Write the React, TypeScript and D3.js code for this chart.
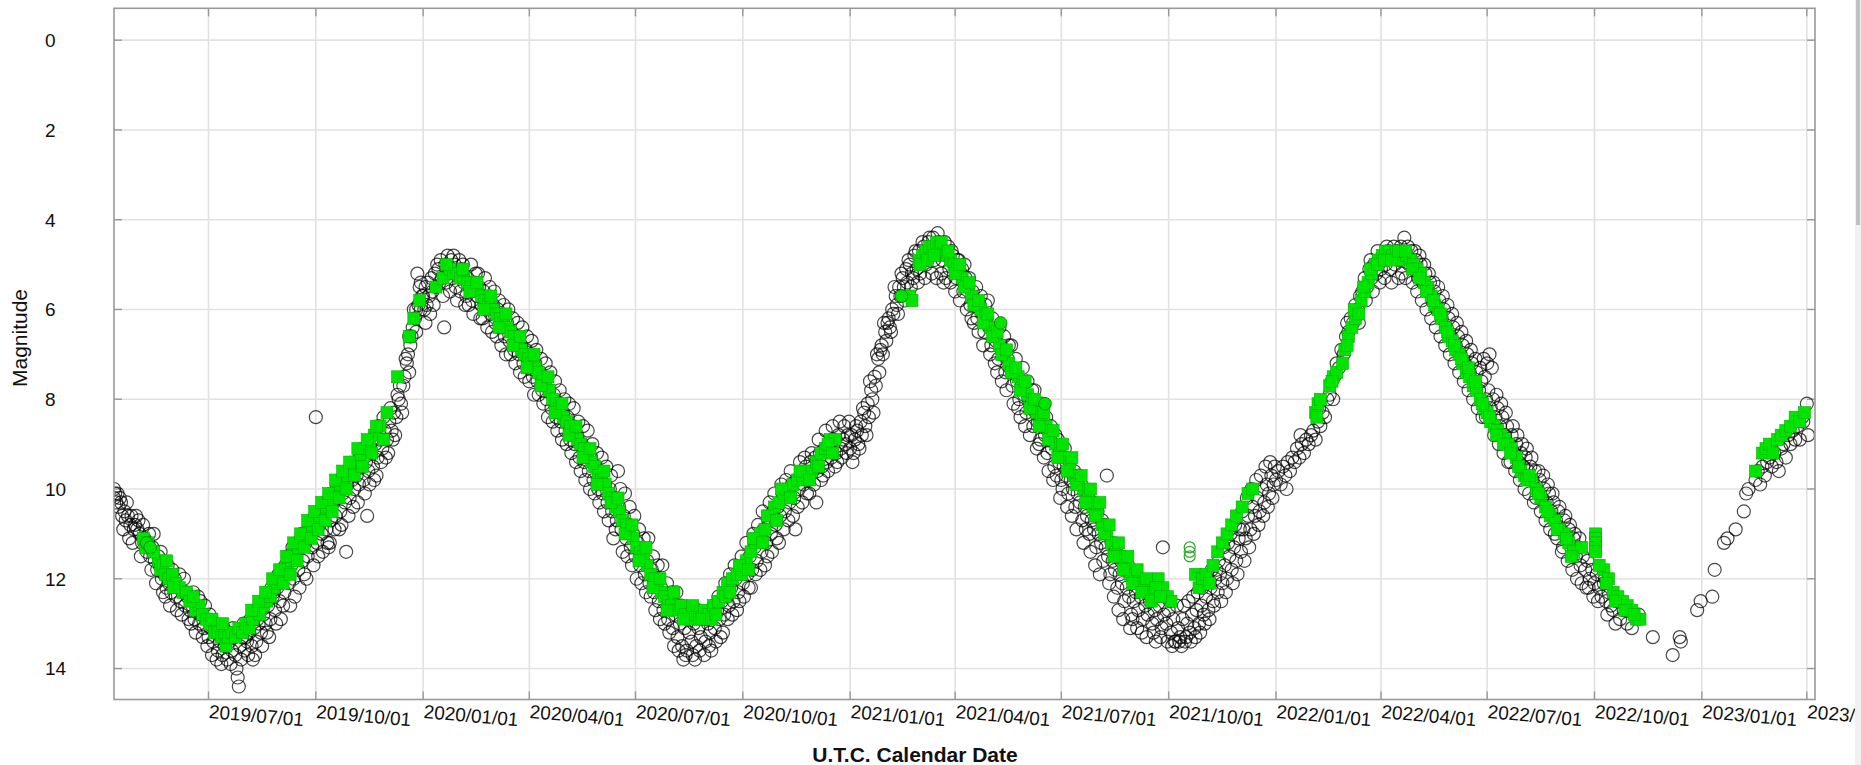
import React from 'react';
import * as d3 from 'd3';

// visual estimates (black open circles), [MM-DD, magnitude]
const visual2019: [string, number][] = [
  ['04-11', 10.0], ['04-11', 10.2], ['04-12', 10.1], ['04-13', 10.3], ['04-14', 10.1], ['04-15', 10.4], ['04-16', 10.2], ['04-17', 10.3],
  ['04-18', 10.6], ['04-20', 10.5], ['04-21', 10.7], ['04-23', 10.6], ['04-24', 11.1], ['04-25', 10.8], ['04-26', 10.6], ['04-28', 10.9],
  ['04-29', 10.8], ['05-01', 10.9], ['05-02', 10.7], ['05-03', 11.0], ['05-05', 11.2], ['05-07', 11.1], ['05-09', 11.4], ['05-10', 11.2],
  ['05-11', 11.0], ['05-12', 11.5], ['05-14', 11.3], ['05-16', 11.6], ['05-18', 11.8], ['05-19', 11.5], ['05-20', 11.7], ['05-22', 12.0],
  ['05-24', 11.9], ['05-25', 12.4], ['05-26', 12.2], ['05-28', 12.1], ['05-30', 12.3], ['06-01', 12.1], ['06-02', 12.0], ['06-03', 12.4],
  ['06-05', 12.2], ['06-07', 12.5], ['06-09', 12.3], ['06-11', 12.6], ['06-12', 12.3], ['06-13', 12.4], ['06-14', 12.9], ['06-15', 12.7],
  ['06-17', 12.6], ['06-19', 12.9], ['06-21', 12.7], ['06-23', 13.0], ['06-24', 12.5], ['06-25', 12.8], ['06-27', 13.1], ['06-29', 12.9],
  ['07-01', 13.3], ['07-03', 13.1], ['07-05', 13.4], ['07-06', 13.0], ['07-07', 13.2], ['07-08', 13.8], ['07-09', 13.6], ['07-11', 13.4],
  ['07-13', 13.7], ['07-15', 13.5], ['07-17', 13.8], ['07-18', 13.2], ['07-19', 13.4], ['07-21', 13.6], ['07-23', 13.3], ['07-25', 14.0],
  ['07-26', 14.2], ['07-27', 14.4], ['07-28', 13.5], ['07-30', 13.3], ['08-01', 13.6], ['08-02', 13.3], ['08-03', 13.4], ['08-05', 13.2],
  ['08-07', 13.5], ['08-09', 13.1], ['08-10', 13.7], ['08-11', 13.4], ['08-12', 12.9], ['08-13', 13.0], ['08-15', 13.2], ['08-17', 12.8],
  ['08-19', 13.0], ['08-20', 13.2], ['08-21', 12.6], ['08-23', 12.9], ['08-25', 12.4], ['08-26', 12.3], ['08-27', 12.7], ['08-29', 12.2],
  ['08-31', 12.5], ['09-02', 12.0], ['09-03', 12.6], ['09-04', 12.3], ['09-05', 11.7], ['09-06', 11.9], ['09-08', 12.1], ['09-10', 11.7],
  ['09-12', 12.0], ['09-13', 12.4], ['09-14', 11.5], ['09-15', 11.2], ['09-16', 11.8], ['09-18', 11.3], ['09-20', 11.6], ['09-21', 11.9],
  ['09-22', 11.2], ['09-24', 11.5], ['09-25', 10.8], ['09-26', 11.0], ['09-28', 11.3], ['09-30', 10.9], ['10-01', 8.4], ['10-02', 11.2],
  ['10-03', 11.5], ['10-04', 10.8], ['10-05', 10.5], ['10-06', 11.0], ['10-08', 10.6], ['10-10', 10.9], ['10-12', 11.3], ['10-13', 11.2],
  ['10-14', 10.7], ['10-15', 10.2], ['10-16', 10.3], ['10-18', 10.6], ['10-20', 10.2], ['10-22', 10.5], ['10-23', 10.8], ['10-24', 10.1],
  ['10-25', 9.8], ['10-26', 10.3], ['10-27', 11.4], ['10-28', 9.9], ['10-30', 10.2], ['11-01', 9.8], ['11-02', 10.4], ['11-03', 10.0],
  ['11-04', 9.4], ['11-05', 9.7], ['11-07', 9.9], ['11-09', 9.5], ['11-10', 9.2], ['11-11', 9.8], ['11-12', 10.1], ['11-13', 9.4],
  ['11-14', 10.6], ['11-15', 9.6], ['11-17', 9.2], ['11-19', 9.5], ['11-21', 9.0], ['11-22', 9.7], ['11-23', 9.3], ['11-24', 8.6],
  ['11-25', 8.9], ['11-27', 9.1], ['11-29', 8.7], ['12-01', 8.9], ['12-02', 9.2], ['12-03', 8.5], ['12-04', 8.2], ['12-05', 8.7],
  ['12-07', 8.3], ['12-08', 8.8], ['12-09', 8.4], ['12-11', 8.0], ['12-12', 7.7], ['12-13', 8.1], ['12-14', 8.3], ['12-15', 7.7],
  ['12-16', 7.5], ['12-17', 7.1], ['12-18', 7.2], ['12-19', 7.0], ['12-21', 6.8], ['12-22', 6.6], ['12-23', 6.4], ['12-24', 6.0],
  ['12-25', 6.2], ['12-26', 6.0], ['12-27', 5.2], ['12-28', 5.9], ['12-29', 5.5], ['12-30', 6.0], ['12-31', 5.7],
  ['04-19', 10.9], ['04-22', 10.3], ['04-27', 11.2], ['04-30', 10.6], ['05-04', 11.5], ['05-06', 10.8], ['05-13', 11.8], ['05-15', 11.0],
  ['05-17', 12.1], ['05-21', 11.4], ['05-23', 12.3], ['05-27', 11.7], ['05-29', 12.6], ['05-31', 11.8], ['06-04', 12.7], ['06-06', 11.9],
  ['06-08', 12.8], ['06-10', 12.0], ['06-16', 13.0], ['06-18', 12.3], ['06-20', 13.2], ['06-22', 12.4], ['06-26', 13.3], ['06-28', 12.6],
  ['06-30', 13.5], ['07-02', 12.8], ['07-04', 13.7], ['07-10', 13.1], ['07-12', 13.9], ['07-14', 13.1], ['07-16', 13.3], ['07-20', 13.9],
  ['07-22', 13.1], ['07-24', 13.7], ['07-29', 13.8], ['07-31', 13.0], ['08-04', 13.7], ['08-06', 12.9], ['08-08', 13.8], ['08-14', 12.7],
  ['08-16', 13.5], ['08-18', 12.5], ['08-22', 13.3], ['08-24', 12.2], ['08-28', 13.0], ['08-30', 11.9], ['09-01', 12.9], ['09-07', 11.5],
  ['09-09', 12.6], ['09-11', 11.3], ['09-17', 12.2], ['09-19', 11.0], ['09-23', 12.0], ['09-27', 10.7], ['09-29', 11.7], ['10-07', 11.4],
  ['10-09', 10.3], ['10-11', 11.2], ['10-17', 10.9], ['10-19', 9.9], ['10-21', 10.9], ['10-29', 10.6], ['10-31', 9.6], ['11-06', 10.3],
  ['11-08', 9.2], ['11-16', 9.9], ['11-18', 8.9], ['11-20', 9.8], ['11-26', 9.4], ['11-28', 8.4], ['11-30', 9.3], ['12-06', 8.9],
  ['12-10', 7.9], ['12-20', 7.4], ['12-20', 6.6], ['12-26', 6.5], ['12-30', 5.4],
];

const visual2020: [string, number][] = [
  ['01-01', 5.7], ['01-02', 6.0], ['01-03', 5.5], ['01-04', 5.9], ['01-05', 5.4], ['01-06', 5.7], ['01-08', 5.3], ['01-09', 5.6],
  ['01-11', 5.2], ['01-12', 5.5], ['01-14', 5.1], ['01-15', 5.4], ['01-16', 4.9], ['01-17', 5.3], ['01-19', 6.4], ['01-20', 5.0],
  ['01-21', 5.4], ['01-22', 4.8], ['01-23', 5.2], ['01-25', 4.9], ['01-26', 5.3], ['01-28', 5.0], ['01-29', 5.5], ['01-31', 5.2],
  ['02-02', 5.6], ['02-03', 5.1], ['02-04', 5.0], ['02-05', 5.4], ['02-06', 5.9], ['02-07', 5.7], ['02-08', 5.3], ['02-10', 5.5],
  ['02-12', 5.8], ['02-14', 5.4], ['02-15', 5.2], ['02-16', 5.7], ['02-18', 5.5], ['02-19', 6.2], ['02-20', 5.9], ['02-22', 5.6],
  ['02-24', 6.0], ['02-26', 5.8], ['02-28', 6.1], ['03-01', 5.9], ['03-02', 5.6], ['03-03', 6.3], ['03-04', 6.6], ['03-05', 6.0],
  ['03-07', 6.4], ['03-09', 6.2], ['03-11', 6.6], ['03-13', 6.3], ['03-14', 6.0], ['03-15', 6.7], ['03-16', 7.0], ['03-17', 6.5],
  ['03-19', 6.9], ['03-21', 6.6], ['03-23', 7.0], ['03-25', 6.8], ['03-26', 6.4], ['03-27', 7.2], ['03-28', 7.5], ['03-29', 6.9],
  ['03-31', 7.3], ['04-02', 7.1], ['04-04', 7.5], ['04-06', 7.2], ['04-07', 6.9], ['04-08', 7.6], ['04-09', 7.9], ['04-10', 7.4],
  ['04-12', 7.8], ['04-14', 7.6], ['04-16', 8.0], ['04-18', 7.8], ['04-19', 7.4], ['04-20', 8.2], ['04-21', 8.5], ['04-22', 7.9],
  ['04-24', 8.4], ['04-26', 8.1], ['04-28', 8.5], ['04-30', 8.3], ['05-01', 8.0], ['05-02', 8.7], ['05-03', 9.0], ['05-04', 8.4],
  ['05-06', 8.9], ['05-08', 8.6], ['05-10', 9.0], ['05-12', 8.8], ['05-13', 8.5], ['05-14', 9.3], ['05-15', 9.6], ['05-16', 9.0],
  ['05-18', 9.4], ['05-20', 9.2], ['05-22', 9.6], ['05-24', 9.3], ['05-25', 9.0], ['05-26', 9.8], ['05-27', 10.1], ['05-28', 9.5],
  ['05-30', 10.0], ['06-01', 9.7], ['06-03', 10.1], ['06-05', 9.9], ['06-06', 9.5], ['06-07', 10.3], ['06-08', 10.7], ['06-09', 10.0],
  ['06-11', 10.5], ['06-12', 11.1], ['06-13', 10.2], ['06-15', 10.7], ['06-16', 9.6], ['06-17', 10.4], ['06-18', 10.0], ['06-19', 10.9],
  ['06-20', 11.4], ['06-21', 10.6], ['06-23', 11.1], ['06-25', 10.8], ['06-27', 11.3], ['06-29', 11.0], ['06-30', 10.6], ['07-01', 11.5],
  ['07-02', 12.0], ['07-03', 11.2], ['07-05', 11.7], ['07-07', 11.4], ['07-09', 11.9], ['07-11', 11.6], ['07-12', 11.1], ['07-13', 12.1],
  ['07-14', 12.4], ['07-15', 11.8], ['07-17', 12.3], ['07-19', 12.0], ['07-21', 12.5], ['07-23', 12.2], ['07-24', 11.7], ['07-25', 12.7],
  ['07-26', 13.0], ['07-27', 12.4], ['07-29', 12.9], ['07-31', 12.6], ['08-02', 13.1], ['08-04', 12.8], ['08-05', 12.3], ['08-06', 13.3],
  ['08-07', 13.6], ['08-08', 13.0], ['08-10', 13.5], ['08-11', 13.8], ['08-12', 13.1], ['08-14', 13.6], ['08-16', 13.2], ['08-17', 12.7],
  ['08-18', 13.4], ['08-19', 13.7], ['08-20', 13.0], ['08-22', 13.5], ['08-24', 13.1], ['08-26', 13.3], ['08-28', 12.9], ['08-30', 13.4],
  ['09-01', 13.0], ['09-02', 13.5], ['09-03', 13.2], ['09-05', 12.8], ['09-07', 13.1], ['09-09', 12.7], ['09-11', 12.9], ['09-13', 12.5],
  ['09-14', 13.2], ['09-15', 12.8], ['09-17', 12.4], ['09-19', 12.6], ['09-21', 12.2], ['09-23', 12.5], ['09-25', 12.0], ['09-26', 12.7],
  ['09-27', 12.3], ['09-29', 11.8], ['10-01', 12.1], ['10-03', 11.7], ['10-05', 11.9], ['10-07', 11.5], ['10-08', 12.2], ['10-09', 11.8],
  ['10-11', 11.3], ['10-13', 11.6], ['10-15', 11.1], ['10-17', 11.4], ['10-19', 10.9], ['10-20', 11.7], ['10-21', 11.2], ['10-23', 10.7],
  ['10-25', 11.0], ['10-27', 10.5], ['10-29', 10.8], ['10-31', 10.4], ['11-01', 11.2], ['11-02', 10.6], ['11-04', 10.2], ['11-06', 10.5],
  ['11-08', 10.1], ['11-10', 10.3], ['11-12', 9.9], ['11-13', 10.6], ['11-14', 10.2], ['11-15', 10.9], ['11-16', 9.8], ['11-18', 10.0],
  ['11-20', 9.7], ['11-22', 9.9], ['11-24', 9.5], ['11-25', 10.1], ['11-26', 9.8], ['11-28', 9.4], ['11-30', 9.6], ['12-02', 9.3],
  ['12-03', 10.3], ['12-04', 9.6], ['12-06', 9.2], ['12-07', 9.8], ['12-08', 9.5], ['12-10', 9.1], ['12-12', 9.4], ['12-14', 9.0],
  ['12-16', 9.3], ['12-18', 8.9], ['12-19', 9.5], ['12-20', 9.2], ['12-22', 8.8], ['12-24', 9.1], ['12-26', 8.9], ['12-28', 9.0],
  ['12-30', 8.8],
  ['01-03', 6.3], ['01-07', 6.1], ['01-10', 5.9], ['01-13', 5.0], ['01-18', 5.7], ['01-24', 5.6], ['01-27', 4.8], ['01-30', 5.8],
  ['02-01', 4.9], ['02-09', 5.9], ['02-11', 5.0], ['02-13', 6.1], ['02-17', 5.2], ['02-21', 6.2], ['02-23', 5.3], ['02-25', 6.4],
  ['02-27', 5.5], ['02-29', 6.5], ['03-06', 5.8], ['03-08', 6.8], ['03-10', 5.9], ['03-12', 7.0], ['03-18', 6.2], ['03-20', 7.2],
  ['03-22', 6.3], ['03-24', 7.4], ['03-30', 6.6], ['04-01', 7.6], ['04-03', 6.7], ['04-05', 7.9], ['04-11', 7.1], ['04-13', 8.1],
  ['04-15', 7.2], ['04-17', 8.4], ['04-23', 7.6], ['04-25', 8.7], ['04-27', 7.8], ['04-29', 8.9], ['05-05', 8.1], ['05-07', 9.2],
  ['05-09', 8.2], ['05-11', 9.4], ['05-17', 8.6], ['05-19', 9.8], ['05-21', 8.7], ['05-23', 10.0], ['05-29', 9.2], ['05-31', 10.3],
  ['06-02', 9.3], ['06-04', 10.5], ['06-10', 9.7], ['06-14', 10.9], ['06-22', 10.1], ['06-24', 11.5], ['06-26', 10.4], ['06-28', 11.7],
  ['07-04', 10.9], ['07-06', 12.1], ['07-08', 11.1], ['07-10', 12.3], ['07-16', 11.5], ['07-18', 12.7], ['07-20', 11.7], ['07-22', 12.9],
  ['07-28', 12.1], ['07-30', 13.2], ['08-01', 12.3], ['08-03', 13.5], ['08-09', 12.6], ['08-13', 13.7], ['08-15', 12.8], ['08-21', 13.8],
  ['08-23', 12.7], ['08-25', 13.6], ['08-27', 12.8], ['08-29', 13.7], ['08-31', 12.9], ['09-04', 13.6], ['09-06', 12.6], ['09-08', 13.4],
  ['09-10', 12.4], ['09-12', 13.3], ['09-16', 12.1], ['09-18', 12.9], ['09-20', 11.9], ['09-22', 12.8], ['09-24', 11.7], ['09-28', 12.5],
  ['09-30', 11.5], ['10-02', 12.4], ['10-04', 11.2], ['10-06', 12.2], ['10-10', 11.0], ['10-12', 11.9], ['10-14', 10.8], ['10-16', 11.8],
  ['10-18', 10.5], ['10-22', 11.5], ['10-24', 10.3], ['10-26', 11.4], ['10-28', 10.1], ['10-30', 11.1], ['11-03', 9.9], ['11-05', 10.9],
  ['11-07', 9.8], ['11-09', 10.7], ['11-11', 9.6], ['11-17', 10.4], ['11-19', 9.4], ['11-21', 10.3], ['11-23', 9.3], ['11-27', 10.1],
  ['11-29', 9.2], ['12-01', 9.9], ['12-05', 8.9], ['12-09', 9.7], ['12-11', 8.7], ['12-13', 9.6], ['12-17', 8.6], ['12-21', 9.4],
  ['12-23', 8.5], ['12-25', 9.3], ['12-27', 8.6], ['12-29', 9.2], ['12-31', 8.5],
];

const visual2021: [string, number][] = [
  ['01-01', 9.1], ['01-02', 8.8], ['01-04', 9.2], ['01-05', 8.9], ['01-07', 8.7], ['01-08', 9.0], ['01-10', 8.5], ['01-11', 8.8],
  ['01-13', 8.3], ['01-14', 8.6], ['01-16', 8.1], ['01-17', 8.4], ['01-19', 7.8], ['01-20', 8.0], ['01-22', 7.5], ['01-23', 7.7],
  ['01-25', 7.1], ['01-26', 7.4], ['01-27', 6.9], ['01-28', 6.8], ['01-29', 7.0], ['01-31', 6.5], ['02-01', 6.7], ['02-02', 6.3],
  ['02-03', 6.2], ['02-04', 6.4], ['02-06', 6.0], ['02-07', 6.1], ['02-09', 5.7], ['02-10', 5.9], ['02-12', 5.5], ['02-13', 5.7],
  ['02-15', 5.3], ['02-16', 5.5], ['02-18', 5.1], ['02-19', 5.4], ['02-21', 5.0], ['02-23', 5.2], ['02-25', 4.8], ['02-27', 5.1],
  ['03-01', 4.7], ['03-03', 4.9], ['03-05', 4.6], ['03-07', 5.0], ['03-09', 4.5], ['03-11', 4.8], ['03-13', 4.4], ['03-15', 4.7],
  ['03-17', 4.3], ['03-19', 4.6], ['03-21', 4.9], ['03-22', 5.4], ['03-23', 4.5], ['03-25', 4.8], ['03-27', 5.1], ['03-29', 4.7],
  ['03-31', 5.0], ['04-02', 5.3], ['04-04', 4.9], ['04-06', 5.2], ['04-08', 5.6], ['04-09', 5.0], ['04-10', 5.3], ['04-12', 5.5],
  ['04-14', 5.9], ['04-15', 6.2], ['04-16', 5.6], ['04-18', 5.8], ['04-20', 6.2], ['04-22', 5.9], ['04-24', 6.1], ['04-26', 6.5],
  ['04-28', 6.2], ['04-29', 5.8], ['04-30', 6.4], ['05-02', 6.8], ['05-04', 6.5], ['05-05', 7.2], ['05-06', 6.7], ['05-08', 7.1],
  ['05-10', 6.8], ['05-12', 7.0], ['05-14', 7.4], ['05-16', 7.1], ['05-18', 7.3], ['05-19', 6.8], ['05-20', 7.7], ['05-22', 7.4],
  ['05-24', 7.6], ['05-25', 8.2], ['05-26', 8.0], ['05-28', 7.7], ['05-30', 7.9], ['06-01', 8.3], ['06-03', 8.0], ['06-05', 8.2],
  ['06-07', 8.6], ['06-08', 7.8], ['06-09', 8.3], ['06-11', 8.5], ['06-12', 9.0], ['06-13', 8.9], ['06-15', 8.6], ['06-17', 8.8],
  ['06-19', 9.2], ['06-21', 8.9], ['06-23', 9.1], ['06-25', 9.5], ['06-27', 9.7], ['06-28', 8.9], ['06-29', 9.4], ['07-01', 9.8],
  ['07-02', 10.0], ['07-03', 9.5], ['07-05', 9.7], ['07-07', 10.1], ['07-09', 9.8], ['07-11', 10.0], ['07-13', 10.4], ['07-15', 10.1],
  ['07-17', 10.3], ['07-18', 9.9], ['07-19', 10.7], ['07-21', 10.4], ['07-22', 10.9], ['07-23', 10.6], ['07-25', 11.0], ['07-27', 10.7],
  ['07-29', 10.9], ['07-31', 11.3], ['08-02', 11.0], ['08-04', 11.2], ['08-06', 11.6], ['08-07', 10.8], ['08-08', 11.3], ['08-09', 9.7],
  ['08-10', 11.5], ['08-11', 12.1], ['08-12', 11.9], ['08-14', 11.6], ['08-16', 11.8], ['08-18', 12.2], ['08-20', 11.9], ['08-22', 12.1],
  ['08-24', 12.5], ['08-26', 12.2], ['08-27', 11.7], ['08-28', 12.4], ['08-30', 12.8], ['08-31', 12.9], ['09-01', 12.5], ['09-03', 12.3],
  ['09-05', 12.7], ['09-07', 12.4], ['09-09', 12.9], ['09-11', 12.6], ['09-13', 12.8], ['09-15', 12.5], ['09-16', 12.2], ['09-17', 13.0],
  ['09-18', 13.2], ['09-19', 12.7], ['09-21', 12.9], ['09-23', 12.6], ['09-25', 13.1], ['09-26', 11.3], ['09-27', 12.8], ['09-29', 13.0],
  ['10-01', 12.7], ['10-03', 13.2], ['10-05', 12.9], ['10-06', 13.4], ['10-07', 13.4], ['10-09', 13.1], ['10-11', 13.3], ['10-12', 13.5],
  ['10-13', 12.9], ['10-15', 13.4], ['10-17', 13.0], ['10-19', 13.2], ['10-21', 12.8], ['10-23', 13.1], ['10-25', 12.7], ['10-27', 13.0],
  ['10-29', 12.6], ['10-31', 12.8], ['11-02', 12.4], ['11-04', 12.7], ['11-06', 12.2], ['11-08', 12.5], ['11-10', 12.0], ['11-11', 11.8],
  ['11-12', 12.3], ['11-14', 11.9], ['11-16', 12.1], ['11-18', 11.7], ['11-20', 12.0], ['11-21', 11.2], ['11-22', 11.5], ['11-24', 11.8],
  ['11-26', 11.3], ['11-28', 11.6], ['11-30', 11.1], ['12-01', 10.9], ['12-02', 11.4], ['12-04', 10.9], ['12-06', 11.1], ['12-08', 10.6],
  ['12-10', 10.9], ['12-12', 10.4], ['12-14', 10.6], ['12-16', 10.2], ['12-18', 10.5], ['12-20', 10.0], ['12-22', 10.3], ['12-24', 9.9],
  ['12-26', 10.1], ['12-28', 9.7], ['12-30', 9.9],
  ['01-03', 9.4], ['01-06', 8.6], ['01-09', 9.1], ['01-12', 8.2], ['01-15', 8.8], ['01-18', 7.6], ['01-21', 8.3], ['01-24', 7.0],
  ['01-30', 6.3], ['02-05', 6.5], ['02-08', 5.5], ['02-11', 6.1], ['02-14', 5.2], ['02-17', 5.8], ['02-20', 4.9], ['02-22', 5.5],
  ['02-24', 5.3], ['02-26', 4.7], ['02-28', 5.4], ['03-02', 5.2], ['03-04', 4.5], ['03-06', 5.3], ['03-08', 4.9], ['03-10', 4.4],
  ['03-12', 5.2], ['03-14', 4.9], ['03-16', 5.3], ['03-18', 4.5], ['03-20', 5.2], ['03-24', 5.3], ['03-26', 4.6], ['03-28', 5.4],
  ['03-30', 4.8], ['04-01', 5.6], ['04-03', 4.9], ['04-05', 5.8], ['04-07', 5.1], ['04-11', 6.0], ['04-13', 5.3], ['04-17', 6.3],
  ['04-19', 5.5], ['04-21', 6.5], ['04-23', 5.7], ['04-25', 6.8], ['04-27', 5.9], ['05-01', 7.0], ['05-03', 6.2], ['05-07', 7.4],
  ['05-09', 6.4], ['05-11', 7.6], ['05-13', 6.6], ['05-15', 7.8], ['05-17', 6.8], ['05-21', 8.1], ['05-23', 7.1], ['05-27', 8.4],
  ['05-29', 7.3], ['05-31', 8.6], ['06-02', 7.6], ['06-04', 8.8], ['06-06', 7.8], ['06-10', 9.1], ['06-14', 8.1], ['06-16', 9.3],
  ['06-18', 8.4], ['06-20', 9.6], ['06-22', 8.6], ['06-24', 9.8], ['06-26', 8.8], ['06-30', 10.2], ['07-04', 9.1], ['07-06', 10.4],
  ['07-08', 9.4], ['07-10', 10.6], ['07-12', 9.6], ['07-14', 10.9], ['07-16', 9.7], ['07-20', 11.2], ['07-24', 10.1], ['07-26', 11.4],
  ['07-28', 10.3], ['07-30', 11.7], ['08-01', 10.5], ['08-03', 11.9], ['08-05', 10.7], ['08-13', 11.2], ['08-15', 12.4], ['08-17', 11.4],
  ['08-19', 12.7], ['08-21', 11.6], ['08-23', 12.9], ['08-25', 11.8], ['08-29', 13.1], ['09-02', 12.0], ['09-04', 13.1], ['09-06', 12.1],
  ['09-08', 13.2], ['09-10', 12.2], ['09-12', 13.3], ['09-14', 12.3], ['09-20', 13.4], ['09-22', 12.3], ['09-24', 13.3], ['09-28', 12.4],
  ['09-30', 13.4], ['10-02', 12.5], ['10-04', 13.5], ['10-08', 12.6], ['10-10', 13.4], ['10-14', 12.6], ['10-16', 13.3], ['10-18', 12.5],
  ['10-20', 13.4], ['10-22', 12.4], ['10-24', 13.3], ['10-26', 12.3], ['10-28', 13.2], ['10-30', 12.2], ['11-01', 13.0], ['11-03', 12.0],
  ['11-05', 12.9], ['11-07', 11.8], ['11-09', 12.6], ['11-13', 11.6], ['11-15', 12.5], ['11-17', 11.3], ['11-19', 12.3], ['11-23', 11.0],
  ['11-25', 12.1], ['11-27', 10.8], ['11-29', 11.9], ['12-03', 10.5], ['12-05', 11.6], ['12-07', 10.2], ['12-09', 11.3], ['12-11', 10.0],
  ['12-13', 11.0], ['12-15', 9.8], ['12-17', 10.8], ['12-19', 9.7], ['12-21', 10.6], ['12-23', 9.5], ['12-25', 10.4], ['12-27', 9.4],
  ['12-29', 10.2], ['12-31', 9.5],
];

const visual2022: [string, number][] = [
  ['01-01', 9.8], ['01-03', 9.6], ['01-05', 9.9], ['01-07', 9.5], ['01-09', 9.7], ['01-11', 9.4], ['01-13', 9.6], ['01-15', 9.3],
  ['01-17', 9.4], ['01-19', 9.1], ['01-21', 9.3], ['01-23', 9.0], ['01-25', 9.2], ['01-27', 8.9], ['01-29', 9.0], ['01-31', 8.8],
  ['02-02', 8.7], ['02-04', 8.9], ['02-06', 8.5], ['02-08', 8.6], ['02-10', 8.3], ['02-12', 8.4], ['02-14', 8.0], ['02-16', 7.9],
  ['02-18', 7.6], ['02-20', 7.5], ['02-22', 7.2], ['02-24', 7.3], ['02-26', 6.9], ['02-28', 7.0], ['03-02', 6.6], ['03-04', 6.5],
  ['03-06', 6.2], ['03-08', 6.3], ['03-10', 5.9], ['03-12', 6.0], ['03-14', 5.7], ['03-16', 5.6], ['03-18', 5.3], ['03-20', 5.5],
  ['03-22', 5.1], ['03-24', 5.3], ['03-26', 5.0], ['03-28', 5.2], ['03-30', 4.9], ['04-01', 5.1], ['04-03', 4.8], ['04-05', 5.0],
  ['04-07', 4.7], ['04-09', 5.1], ['04-11', 4.8], ['04-13', 5.0], ['04-15', 4.7], ['04-17', 4.9], ['04-19', 5.2], ['04-21', 4.4],
  ['04-23', 4.8], ['04-25', 5.0], ['04-27', 4.7], ['04-29', 5.1], ['05-01', 4.9], ['05-03', 5.3], ['05-05', 5.0], ['05-07', 5.4],
  ['05-09', 5.2], ['05-11', 5.6], ['05-13', 5.4], ['05-15', 5.8], ['05-17', 5.6], ['05-19', 6.0], ['05-21', 5.8], ['05-23', 6.2],
  ['05-25', 6.0], ['05-27', 6.4], ['05-29', 6.2], ['05-31', 6.6], ['06-02', 6.4], ['06-04', 6.8], ['06-06', 6.6], ['06-08', 7.0],
  ['06-10', 6.8], ['06-12', 7.2], ['06-14', 7.0], ['06-16', 7.4], ['06-18', 7.2], ['06-20', 7.6], ['06-22', 7.4], ['06-24', 7.8],
  ['06-26', 7.6], ['06-28', 7.1], ['06-30', 8.0], ['06-30', 8.4], ['07-01', 7.2], ['07-02', 7.8], ['07-03', 7.0], ['07-04', 8.2],
  ['07-05', 7.3], ['07-06', 8.0], ['07-08', 8.4], ['07-10', 8.2], ['07-12', 8.6], ['07-14', 8.4], ['07-16', 8.8], ['07-18', 8.6],
  ['07-20', 9.0], ['07-21', 9.4], ['07-22', 8.8], ['07-24', 9.2], ['07-26', 9.0], ['07-28', 9.4], ['07-30', 9.2], ['08-01', 9.5],
  ['08-03', 9.3], ['08-05', 9.6], ['08-07', 9.5], ['08-09', 9.8], ['08-11', 9.6], ['08-12', 10.2], ['08-13', 10.0], ['08-15', 9.8],
  ['08-17', 10.2], ['08-19', 10.0], ['08-21', 10.3], ['08-23', 10.1], ['08-25', 10.5], ['08-27', 10.3], ['08-28', 11.0], ['08-29', 10.7],
  ['08-31', 10.5], ['09-02', 10.9], ['09-04', 11.3], ['09-05', 10.7], ['09-07', 11.1], ['09-09', 10.9], ['09-11', 11.3], ['09-13', 11.1],
  ['09-15', 11.5], ['09-17', 11.3], ['09-19', 11.7], ['09-21', 11.5], ['09-23', 11.8], ['09-25', 11.6], ['09-26', 12.2], ['09-27', 12.0],
  ['09-29', 11.8], ['10-01', 12.1], ['10-03', 11.9], ['10-05', 12.2], ['10-07', 12.4], ['10-09', 12.1], ['10-11', 12.5], ['10-13', 12.3],
  ['10-15', 12.6], ['10-17', 12.7], ['10-19', 13.0], ['10-20', 12.5], ['10-23', 12.9], ['10-26', 12.7], ['10-29', 13.0], ['11-02', 13.1],
  ['11-08', 12.8], ['11-20', 13.3], ['12-07', 13.7], ['12-13', 13.3], ['12-14', 13.4], ['12-28', 12.7], ['12-31', 12.5],
  ['01-10', 10.0], ['01-22', 8.8], ['02-07', 8.2], ['02-19', 8.0], ['03-03', 6.3], ['03-13', 6.3], ['03-19', 5.8], ['03-23', 4.9],
  ['03-25', 5.6], ['03-29', 4.7], ['03-31', 5.4], ['04-04', 5.3], ['04-06', 4.6], ['04-10', 5.4], ['04-12', 4.6], ['04-16', 5.3],
  ['04-18', 4.6], ['04-22', 5.3], ['04-24', 4.6], ['04-28', 5.4], ['04-30', 4.7], ['05-02', 5.6], ['05-04', 4.8], ['05-06', 5.8],
  ['05-08', 5.0], ['05-10', 6.0], ['05-12', 5.2], ['05-14', 6.2], ['05-16', 5.4], ['05-18', 6.4], ['05-20', 5.5], ['05-22', 6.6],
  ['05-24', 5.7], ['05-26', 6.8], ['05-28', 5.9], ['05-30', 7.0], ['06-01', 6.1], ['06-03', 7.2], ['06-05', 6.3], ['06-07', 7.4],
  ['06-09', 6.5], ['06-11', 7.6], ['06-13', 6.7], ['06-15', 7.8], ['06-17', 6.9], ['06-19', 8.0], ['06-21', 7.1], ['06-23', 8.2],
  ['06-25', 7.3], ['06-27', 8.4], ['06-29', 7.5], ['07-07', 8.8], ['07-09', 7.9], ['07-11', 9.0], ['07-13', 8.1], ['07-15', 9.2],
  ['07-17', 8.3], ['07-19', 9.4], ['07-23', 8.6], ['07-25', 9.6], ['07-27', 8.8], ['07-29', 9.8], ['07-31', 9.0], ['08-02', 10.0],
  ['08-04', 9.1], ['08-06', 10.1], ['08-08', 9.3], ['08-10', 10.3], ['08-14', 9.6], ['08-16', 10.5], ['08-18', 9.7], ['08-20', 10.7],
  ['08-22', 9.9], ['08-24', 10.9], ['08-26', 10.1], ['08-30', 11.1], ['09-01', 10.4], ['09-03', 11.4], ['09-06', 10.6], ['09-08', 11.6],
  ['09-10', 10.8], ['09-12', 11.8], ['09-14', 11.0], ['09-16', 12.0], ['09-18', 11.1], ['09-20', 12.1], ['09-24', 12.2], ['09-30', 12.4],
  ['10-04', 12.5], ['10-10', 12.0], ['10-12', 12.8],
];

const visual2023: [string, number][] = [
  ['01-10', 12.4], ['01-12', 11.8], ['01-20', 11.2], ['01-23', 11.1], ['01-30', 10.9], ['02-06', 10.5], ['02-08', 10.1], ['02-10', 10.0],
  ['02-16', 9.8], ['02-18', 9.6], ['02-22', 9.5], ['02-24', 9.7], ['02-26', 9.4], ['02-28', 9.3], ['03-02', 9.5], ['03-04', 9.2],
  ['03-06', 9.4], ['03-10', 9.1], ['03-12', 9.0], ['03-16', 8.8], ['03-18', 9.0], ['03-20', 8.7], ['03-24', 8.6], ['03-26', 8.9],
  ['03-29', 8.5], ['04-01', 8.1], ['04-02', 8.8], ['02-20', 9.9], ['03-08', 9.6], ['03-14', 9.3], ['03-22', 8.9], ['03-28', 8.4],
];

// instrumental (green filled squares)
const ccd2019: [string, number][] = [
  ['05-06', 11.1], ['05-08', 11.3], ['05-10', 11.2], ['05-19', 11.6], ['05-21', 11.8], ['05-23', 11.7], ['05-25', 11.9], ['05-28', 12.0],
  ['05-31', 11.9], ['06-03', 12.1], ['06-06', 12.2], ['06-09', 12.3], ['06-12', 12.3], ['06-20', 12.7], ['06-23', 12.6], ['06-26', 12.8],
  ['06-29', 12.9], ['07-02', 13.0], ['07-06', 13.2], ['07-09', 13.2], ['07-12', 13.3], ['07-15', 13.2], ['07-16', 13.5], ['07-18', 13.3],
  ['07-21', 13.2], ['07-24', 13.3], ['07-27', 13.1], ['07-30', 13.2], ['08-02', 13.0], ['08-05', 13.1], ['08-08', 12.9], ['08-11', 12.7],
  ['08-14', 12.8], ['08-17', 12.6], ['08-20', 12.5], ['08-23', 12.4], ['08-26', 12.2], ['08-29', 12.1], ['09-01', 12.0], ['09-04', 11.8],
  ['09-07', 11.7], ['09-10', 11.6], ['09-13', 11.4], ['09-16', 11.3], ['09-19', 11.2], ['09-22', 11.0], ['09-25', 10.9], ['09-28', 10.8],
  ['10-01', 10.7], ['10-04', 10.6], ['10-07', 10.5], ['10-10', 10.4], ['10-13', 10.3], ['10-16', 10.1], ['10-19', 10.0], ['10-22', 9.9],
  ['10-25', 9.8], ['10-28', 9.7], ['11-01', 9.5], ['11-04', 9.4], ['11-08', 9.3], ['11-12', 9.1], ['11-16', 9.0], ['11-20', 8.8],
  ['11-25', 8.6], ['12-01', 8.3], ['12-10', 7.5], ['12-20', 6.6], ['12-24', 6.2], ['12-29', 5.8],
  ['05-15', 11.4], ['05-26', 11.6], ['06-01', 12.2], ['06-15', 12.5], ['06-18', 12.4], ['07-04', 12.9], ['07-13', 13.0], ['08-07', 12.7],
  ['08-13', 12.5], ['08-19', 12.3], ['08-25', 12.0], ['08-31', 11.8], ['09-03', 12.1], ['09-06', 11.5], ['09-09', 11.9], ['09-12', 11.2],
  ['09-15', 11.6], ['09-18', 11.0], ['09-21', 11.3], ['09-24', 10.7], ['09-27', 11.1], ['09-30', 10.5], ['10-03', 10.9], ['10-06', 10.3],
  ['10-09', 10.7], ['10-12', 10.1], ['10-15', 10.5], ['10-18', 9.8], ['10-21', 10.2], ['10-24', 9.6], ['10-27', 10.0], ['10-30', 9.4],
  ['11-03', 9.7], ['11-06', 9.1], ['11-10', 9.5], ['11-14', 8.9], ['11-18', 9.2], ['11-22', 8.6], ['11-28', 8.9],
];

const ccd2020: [string, number][] = [
  ['01-12', 5.5], ['01-18', 5.3], ['01-24', 5.1], ['01-27', 5.2], ['01-30', 5.2], ['02-02', 5.3], ['02-05', 5.3], ['02-08', 5.4],
  ['02-11', 5.5], ['02-14', 5.6], ['02-17', 5.6], ['02-20', 5.7], ['02-23', 5.8], ['02-26', 5.9], ['03-01', 6.0], ['03-04', 6.1],
  ['03-07', 6.2], ['03-10', 6.3], ['03-13', 6.4], ['03-16', 6.5], ['03-19', 6.6], ['03-22', 6.8], ['03-25', 6.9], ['03-28', 7.0],
  ['03-31', 7.1], ['04-03', 7.2], ['04-06', 7.3], ['04-09', 7.4], ['04-12', 7.6], ['04-15', 7.7], ['04-18', 7.8], ['04-21', 8.0],
  ['04-24', 8.1], ['04-27', 8.2], ['04-30', 8.4], ['05-03', 8.5], ['05-06', 8.6], ['05-09', 8.8], ['05-12', 8.9], ['05-15', 9.0],
  ['05-18', 9.1], ['05-21', 9.3], ['05-24', 9.4], ['05-27', 9.5], ['05-30', 9.7], ['06-02', 9.8], ['06-05', 9.9], ['06-08', 10.1],
  ['06-11', 10.2], ['06-14', 10.4], ['06-17', 10.5], ['06-20', 10.7], ['06-23', 10.8], ['06-26', 11.0], ['06-29', 11.1], ['07-02', 11.3],
  ['07-05', 11.4], ['07-08', 11.5], ['07-11', 11.7], ['07-14', 11.9], ['07-17', 12.0], ['07-20', 12.2], ['07-23', 12.3], ['07-26', 12.4],
  ['07-29', 12.5], ['08-01', 12.6], ['08-05', 12.7], ['08-09', 12.6], ['08-13', 12.8], ['08-17', 12.9], ['08-21', 12.8], ['08-25', 12.9],
  ['08-29', 12.7], ['09-02', 12.8], ['09-06', 12.6], ['09-10', 12.5], ['09-14', 12.3], ['09-18', 12.1], ['09-22', 12.0], ['09-26', 11.9],
  ['09-30', 11.9], ['10-04', 11.6], ['10-08', 11.4], ['10-12', 11.2], ['10-16', 11.0], ['10-20', 10.9], ['10-24', 10.6], ['10-28', 10.4],
  ['11-01', 10.3], ['11-05', 10.1], ['11-09', 10.0], ['11-13', 9.9], ['11-17', 9.8], ['11-21', 9.7], ['11-25', 9.6], ['11-29', 9.6],
  ['12-03', 9.4], ['12-07', 9.2], ['12-11', 9.1], ['12-15', 8.9], ['12-19', 8.9],
  ['01-21', 5.0], ['02-04', 5.1], ['02-10', 5.6], ['02-16', 5.4], ['02-22', 6.0], ['02-28', 5.7], ['03-06', 6.4], ['03-12', 6.1],
  ['03-18', 6.8], ['03-24', 6.6], ['03-30', 7.3], ['04-05', 7.0], ['04-11', 7.7], ['04-17', 7.5], ['04-23', 8.3], ['04-29', 8.1],
  ['05-05', 8.8], ['05-11', 8.6], ['05-17', 9.3], ['05-23', 9.1], ['05-29', 9.9], ['06-04', 9.6], ['06-10', 10.3], ['06-16', 10.2],
  ['06-22', 11.0], ['06-28', 10.8], ['07-04', 11.6], ['07-10', 11.3], ['07-16', 12.2], ['07-22', 12.0], ['07-28', 12.7], ['08-03', 12.3],
  ['08-11', 12.9], ['08-19', 12.6], ['08-27', 12.9], ['09-04', 12.9], ['09-08', 12.8], ['09-16', 12.4], ['09-20', 12.3], ['09-28', 11.7],
  ['10-06', 11.8], ['10-10', 11.1], ['10-18', 11.2], ['10-22', 10.6], ['10-30', 10.7], ['11-03', 10.0], ['11-11', 10.2], ['11-19', 9.6],
  ['11-27', 9.8], ['12-05', 9.5], ['12-13', 9.0], ['12-17', 9.2],
];

const ccd2021: [string, number][] = [
  ['02-21', 5.7], ['02-23', 5.8], ['03-01', 4.9], ['03-04', 4.8], ['03-07', 4.7], ['03-10', 4.6], ['03-13', 4.6], ['03-16', 4.5],
  ['03-19', 4.6], ['03-22', 4.7], ['03-25', 4.8], ['03-28', 4.9], ['03-31', 5.0], ['04-03', 5.1], ['04-07', 5.3], ['04-11', 5.5],
  ['04-15', 5.7], ['04-19', 5.9], ['04-23', 6.0], ['04-27', 6.2], ['05-01', 6.4], ['05-05', 6.6], ['05-09', 6.8], ['05-13', 7.0],
  ['05-17', 7.2], ['05-21', 7.4], ['05-25', 7.5], ['05-29', 7.7], ['06-02', 7.9], ['06-06', 8.1], ['06-10', 8.3], ['06-14', 8.4],
  ['06-18', 8.6], ['06-22', 8.8], ['06-26', 9.0], ['06-30', 9.2], ['07-04', 9.3], ['07-08', 9.5], ['07-12', 9.7], ['07-16', 9.8],
  ['07-20', 10.0], ['07-24', 10.2], ['07-28', 10.4], ['08-01', 10.5], ['08-05', 10.8], ['08-09', 11.0], ['08-13', 11.2], ['08-17', 11.4],
  ['08-21', 11.5], ['08-25', 11.7], ['08-29', 11.9], ['09-02', 12.0], ['09-06', 12.1], ['09-10', 12.2], ['09-14', 12.3], ['09-18', 12.4],
  ['09-22', 12.0], ['09-26', 12.2], ['09-30', 12.4], ['10-03', 12.5], ['10-24', 11.9], ['10-27', 12.2], ['10-30', 12.0], ['11-02', 11.9],
  ['11-05', 12.1], ['11-08', 11.7], ['11-12', 11.4], ['11-16', 11.2], ['11-20', 11.0], ['11-24', 10.8], ['11-28', 10.6], ['12-03', 10.4],
  ['12-08', 10.1], ['12-12', 10.0],
  ['03-02', 5.0], ['03-08', 4.9], ['03-14', 4.8], ['03-20', 4.5], ['03-26', 4.7], ['04-01', 5.2], ['04-05', 5.0], ['04-09', 5.5],
  ['04-13', 5.4], ['04-17', 5.9], ['04-21', 5.8], ['04-25', 6.3], ['04-29', 6.1], ['05-03', 6.6], ['05-07', 6.5], ['05-11', 7.0],
  ['05-15', 6.9], ['05-19', 7.4], ['05-23', 7.3], ['05-27', 7.8], ['05-31', 7.6], ['06-04', 8.2], ['06-08', 8.0], ['06-12', 8.6],
  ['06-16', 8.3], ['06-20', 8.9], ['06-24', 8.7], ['06-28', 9.3], ['07-02', 9.0], ['07-06', 9.6], ['07-10', 9.3], ['07-14', 9.9],
  ['07-18', 9.7], ['07-22', 10.3], ['07-26', 10.0], ['07-30', 10.6], ['08-03', 10.3], ['08-07', 11.0], ['08-11', 10.8], ['08-15', 11.5],
  ['08-19', 11.2], ['08-23', 11.8], ['08-27', 11.5], ['08-31', 12.1], ['09-04', 11.8], ['09-08', 12.3], ['09-12', 12.0], ['09-16', 12.5],
  ['09-20', 12.2], ['09-24', 12.4],
];

const ccd2022: [string, number][] = [
  ['02-04', 8.3], ['02-06', 8.1], ['02-08', 8.0], ['02-16', 7.7], ['02-19', 7.5], ['02-22', 7.4], ['03-01', 6.9], ['03-04', 6.6],
  ['03-07', 6.4], ['03-10', 6.2], ['03-15', 5.8], ['03-18', 5.6], ['03-21', 5.4], ['03-24', 5.2], ['03-27', 5.0], ['03-30', 4.9],
  ['04-02', 4.8], ['04-05', 4.7], ['04-08', 4.7], ['04-11', 4.8], ['04-14', 4.7], ['04-17', 4.8], ['04-20', 4.9], ['04-23', 4.8],
  ['04-26', 4.9], ['04-29', 5.0], ['05-02', 5.1], ['05-05', 5.2], ['05-08', 5.4], ['05-11', 5.5], ['05-14', 5.7], ['05-17', 5.9],
  ['05-20', 6.0], ['05-23', 6.2], ['05-26', 6.4], ['05-29', 6.6], ['06-01', 6.7], ['06-04', 6.9], ['06-07', 7.0], ['06-10', 7.2],
  ['06-13', 7.4], ['06-16', 7.5], ['06-19', 7.7], ['06-22', 7.8], ['06-25', 8.0], ['06-28', 8.2], ['07-01', 8.3], ['07-04', 8.5],
  ['07-07', 8.6], ['07-10', 8.7], ['07-13', 8.8], ['07-16', 8.9], ['07-19', 9.0], ['07-22', 9.1], ['07-26', 9.3], ['07-30', 9.6],
  ['08-02', 9.7], ['08-04', 9.8], ['08-08', 9.8], ['08-12', 10.0], ['08-16', 10.2], ['08-20', 10.4], ['08-24', 10.6], ['08-28', 10.7],
  ['09-01', 10.9], ['09-05', 11.0], ['09-09', 11.2], ['09-13', 11.4], ['09-20', 11.3], ['10-02', 11.0], ['10-02', 11.1], ['10-02', 11.2],
  ['10-02', 11.3], ['10-02', 11.4], ['10-09', 11.8], ['10-13', 12.0], ['10-17', 12.3], ['10-21', 12.4], ['10-25', 12.5], ['10-29', 12.6],
  ['11-02', 12.7], ['11-06', 12.9], ['11-09', 12.9],
  ['02-05', 8.4], ['02-18', 7.6], ['02-27', 7.2], ['03-03', 6.8], ['03-09', 6.0], ['03-13', 6.1], ['03-17', 5.5], ['03-23', 5.1],
  ['03-29', 5.0], ['04-04', 4.9], ['04-10', 4.9], ['04-16', 4.7], ['04-22', 4.7], ['04-28', 5.1], ['05-04', 5.3], ['05-10', 5.6],
  ['05-16', 5.8], ['05-22', 6.1], ['05-28', 6.5], ['06-03', 6.8], ['06-09', 7.1], ['06-15', 7.3], ['06-21', 7.6], ['06-27', 8.1],
  ['07-03', 8.4], ['07-09', 8.8], ['07-15', 9.0], ['07-21', 9.2], ['07-28', 9.5], ['08-06', 9.7], ['08-14', 10.1], ['08-22', 10.5],
  ['08-30', 10.9], ['09-07', 11.1], ['09-11', 11.5], ['10-05', 11.7], ['10-11', 12.1], ['10-19', 12.5], ['10-27', 12.7], ['11-04', 12.8],
];

const ccd2023: [string, number][] = [
  ['02-16', 9.6], ['02-22', 9.2], ['02-25', 9.1], ['02-28', 9.0], ['03-03', 9.2], ['03-07', 8.9], ['03-10', 8.8], ['03-14', 8.7],
  ['03-18', 8.6], ['03-22', 8.4], ['03-26', 8.5], ['03-30', 8.3],
];

// a few green circles (filled and open)
const greenFilled: [string, number][] = [
  ['2019-05-09', 11.2], ['2019-05-12', 11.3], ['2021-02-14', 5.7], ['2021-05-10', 6.3], ['2021-06-17', 8.1],
];
const greenOpen: [string, number][] = [['2021-10-19', 11.3], ['2021-10-19', 11.4], ['2021-10-19', 11.5]];

const tickDates = [
  '2019-07-01', '2019-10-01', '2020-01-01', '2020-04-01', '2020-07-01', '2020-10-01', '2021-01-01', '2021-04-01',
  '2021-07-01', '2021-10-01', '2022-01-01', '2022-04-01', '2022-07-01', '2022-10-01', '2023-01-01', '2023-04-01',
];
const magTicks = [0, 2, 4, 6, 8, 10, 12, 14];

const W = 1861;
const H = 765;
const plot = { left: 114, right: 1815, top: 8.3, bottom: 699.5 };
const FONT = '"Liberation Sans", Arial, Helvetica, sans-serif';

const parseDay = d3.utcParse('%Y-%m-%d');
const fmt = d3.utcFormat('%Y/%m/%d');

function byYear(year: number, rows: [string, number][]) {
  return rows.map(([md, mag]) => ({ date: parseDay(`${year}-${md}`) as Date, mag }));
}
function full(rows: [string, number][]) {
  return rows.map(([d, mag]) => ({ date: parseDay(d) as Date, mag }));
}

const visual = [
  ...byYear(2019, visual2019), ...byYear(2020, visual2020), ...byYear(2021, visual2021),
  ...byYear(2022, visual2022), ...byYear(2023, visual2023),
];
const ccd = [
  ...byYear(2019, ccd2019), ...byYear(2020, ccd2020), ...byYear(2021, ccd2021),
  ...byYear(2022, ccd2022), ...byYear(2023, ccd2023),
];

export default function App() {
  const x = d3.scaleUtc()
    .domain([parseDay('2019-04-11') as Date, parseDay('2023-04-08') as Date])
    .range([plot.left, plot.right]);
  const y = d3.scaleLinear()
    .domain([-0.71, 14.69])
    .range([plot.top, plot.bottom]);

  const ticks = tickDates.map(d => parseDay(d) as Date);
  const sq = 12;

  return (
    <div style={{ position: 'fixed', left: 0, top: 0, width: W, height: H, overflow: 'hidden', background: '#fff' }}>
      <svg width={W} height={H} style={{ display: 'block' }}>
        <defs>
          <clipPath id="plotClip">
            <rect x={plot.left} y={plot.top} width={plot.right - plot.left} height={plot.bottom - plot.top} />
          </clipPath>
        </defs>

        {/* grid */}
        <g stroke="#e2e2e2" strokeWidth={1.6}>
          {ticks.map((t, i) => (
            <line key={'gx' + i} x1={x(t)} x2={x(t)} y1={plot.top} y2={plot.bottom} />
          ))}
          {magTicks.map(m => (
            <line key={'gy' + m} x1={plot.left} x2={plot.right} y1={y(m)} y2={y(m)} />
          ))}
        </g>

        {/* inner tick marks */}
        <g stroke="#999" strokeWidth={1.4}>
          {ticks.map((t, i) => (
            <g key={'tx' + i}>
              <line x1={x(t)} x2={x(t)} y1={plot.top} y2={plot.top + 8} />
              <line x1={x(t)} x2={x(t)} y1={plot.bottom} y2={plot.bottom - 8} />
            </g>
          ))}
          {magTicks.map(m => (
            <g key={'ty' + m}>
              <line x1={plot.left} x2={plot.left + 8} y1={y(m)} y2={y(m)} />
              <line x1={plot.right} x2={plot.right - 8} y1={y(m)} y2={y(m)} />
            </g>
          ))}
        </g>

        {/* data */}
        <g clipPath="url(#plotClip)">
          {visual.map((d, i) => (
            <circle key={'v' + i} cx={x(d.date)} cy={y(d.mag)} r={6.5}
              fill="none" stroke="#000" strokeOpacity={0.72} strokeWidth={1.2} />
          ))}
          {ccd.map((d, i) => (
            <rect key={'c' + i} x={x(d.date) - sq / 2} y={y(d.mag) - sq / 2} width={sq} height={sq}
              fill="#00e400" stroke="#00b400" strokeWidth={0.6} />
          ))}
          {full(greenFilled).map((d, i) => (
            <circle key={'gf' + i} cx={x(d.date)} cy={y(d.mag)} r={6.3}
              fill="#00e400" stroke="#008c00" strokeWidth={1} />
          ))}
          {full(greenOpen).map((d, i) => (
            <circle key={'go' + i} cx={x(d.date)} cy={y(d.mag)} r={5.5}
              fill="none" stroke="#2ea82e" strokeWidth={1.2} />
          ))}
        </g>

        {/* frame */}
        <rect x={plot.left} y={plot.top} width={plot.right - plot.left} height={plot.bottom - plot.top}
          fill="none" stroke="#999" strokeWidth={1.6} />

        {/* y tick labels */}
        <g fontFamily={FONT} fontSize={19} fill="#111">
          {magTicks.map(m => (
            <text key={'ly' + m} x={45} y={y(m)} dy="0.36em">{m}</text>
          ))}
        </g>

        {/* x tick labels */}
        <g fontFamily={FONT} fontSize={19} fill="#111">
          {ticks.map((t, i) => (
            <text key={'lx' + i} transform={`translate(${x(t)},718) rotate(5)`} textAnchor="start">{fmt(t)}</text>
          ))}
        </g>

        <text transform="translate(26.5,338) rotate(-90)" textAnchor="middle" fontFamily={FONT} fontSize={21} fill="#111">
          Magnitude
        </text>
        <text x={915} y={761.5} textAnchor="middle" fontFamily={FONT} fontSize={21} fontWeight="bold" fill="#111">
          U.T.C. Calendar Date
        </text>

        {/* page scrollbar */}
        <rect x={1855} y={0} width={6} height={H} fill="#f1f1f1" />
        <rect x={1856} y={0} width={4} height={225} fill="#c1c1c1" />
      </svg>
    </div>
  );
}
